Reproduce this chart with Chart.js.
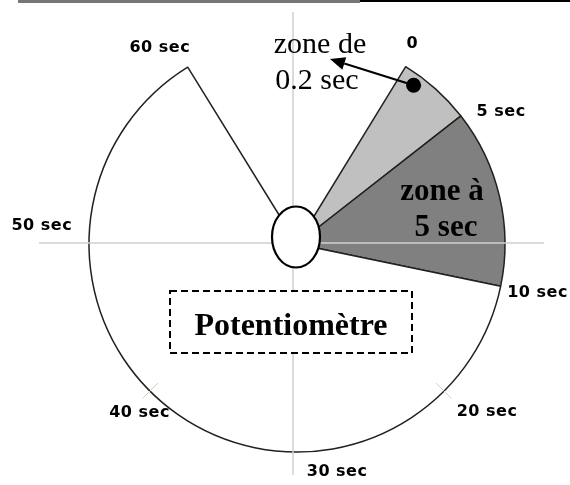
<!DOCTYPE html>
<html>
<head>
<meta charset="utf-8">
<title>Potentiomètre</title>
<script src="https://cdn.jsdelivr.net/npm/chart.js@4"></script>
<style>
  html, body { margin: 0; padding: 0; background: #fff; }
  #dial { display: block; }
</style>
</head>
<body>
<canvas id="dial" width="570" height="485"></canvas>
<script>
// knob travel in degrees, clockwise from the top of the dial
const zoneLabels = ["0 - 5 sec", "5 - 10 sec", "10 - 60 sec", "butée"];
const zoneSpans = [20.5, 49.7, 226.6, 63.2];
const zoneColors = ["#c0c0c0", "#808080", "#ffffff", "rgba(0,0,0,0)"];
const startAngle = 31.5;

// graduations printed around the dial
const tickLabels = ["0", "5 sec", "10 sec", "20 sec", "30 sec", "40 sec", "50 sec", "60 sec"];
const tickAngles = [30, 57, 101.5, 131.5, 170, 223, 274, 325];

function polar(cx, cy, r, deg) {
  const a = (deg - 90) * Math.PI / 180;
  return { x: cx + r * Math.cos(a), y: cy + r * Math.sin(a) };
}

function drawArrow(ctx, from, to) {
  const dx = to.x - from.x;
  const dy = to.y - from.y;
  const len = Math.hypot(dx, dy);
  const ux = dx / len, uy = dy / len;
  const head = 15, half = 6.5;
  const base = { x: to.x - ux * head, y: to.y - uy * head };

  ctx.strokeStyle = "#000";
  ctx.lineWidth = 2;
  ctx.beginPath();
  ctx.moveTo(from.x, from.y);
  ctx.lineTo(base.x, base.y);
  ctx.stroke();

  ctx.fillStyle = "#000";
  ctx.beginPath();
  ctx.moveTo(to.x, to.y);
  ctx.lineTo(base.x - uy * half, base.y + ux * half);
  ctx.lineTo(base.x + uy * half, base.y - ux * half);
  ctx.closePath();
  ctx.fill();
}

const dialDecor = {
  id: "dialDecor",
  afterDatasetsDraw(chart, args, opts) {
    const ctx = chart.ctx;
    const arc = chart.getDatasetMeta(0).data[0];
    const cx = arc.x, cy = arc.y, R = arc.outerRadius;

    ctx.save();

    // rule at the top of the page
    ctx.fillStyle = "#767676";
    ctx.fillRect(18, 0, 342, 3);
    ctx.fillStyle = "#000";
    ctx.fillRect(360, 0, 210, 2);

    // light cross through the dial
    ctx.strokeStyle = "#cfcfcf";
    ctx.lineWidth = 1.5;
    ctx.beginPath();
    ctx.moveTo(cx - 4, cy - 232);
    ctx.lineTo(cx - 4, cy + 231);
    ctx.moveTo(cx - 258, cy - 1);
    ctx.lineTo(cx + 247, cy - 1);
    ctx.stroke();

    // small marks on the rim
    ctx.lineWidth = 1;
    [135, 225].forEach(deg => {
      const a = polar(cx, cy, R * 0.945, deg);
      const b = polar(cx, cy, R * 1.05, deg);
      ctx.beginPath();
      ctx.moveTo(a.x, a.y);
      ctx.lineTo(b.x, b.y);
      ctx.stroke();
    });

    // knob
    ctx.fillStyle = "#fff";
    ctx.strokeStyle = "#000";
    ctx.lineWidth = 2.2;
    ctx.beginPath();
    ctx.ellipse(cx - 1, cy - 7, 24, 30.5, 0, 0, Math.PI * 2);
    ctx.fill();
    ctx.stroke();

    // graduation labels
    ctx.fillStyle = "#000";
    ctx.font = 'bold 16px "DejaVu Sans"';
    ctx.letterSpacing = "0.5px";
    ctx.textAlign = "center";
    ctx.textBaseline = "middle";
    tickLabels.forEach((label, i) => {
      const p = polar(cx, cy, R * opts.labelDistance[i], tickAngles[i]);
      ctx.fillText(label, p.x, p.y);
    });
    ctx.letterSpacing = "0px";

    // dashed box with the title
    ctx.textBaseline = "alphabetic";
    ctx.fillStyle = "#fff";
    ctx.fillRect(170, 291, 242, 62);
    ctx.setLineDash([7, 4]);
    ctx.lineWidth = 2;
    ctx.strokeRect(170, 291, 242, 62);
    ctx.setLineDash([]);
    ctx.fillStyle = "#000";
    ctx.font = 'bold 32px "Liberation Serif"';
    ctx.fillText("Potentiomètre", 291, 335);

    // zone annotations
    ctx.font = 'bold 31px "Liberation Serif"';
    ctx.fillText("zone à", 442, 200);
    ctx.fillText("5 sec", 446, 236);
    ctx.font = '30px "Liberation Serif"';
    ctx.fillText("zone de", 320, 53);
    ctx.fillText("0.2 sec", 317, 89);

    const dot = polar(cx, cy, R * 0.947, 36.3);
    ctx.beginPath();
    ctx.arc(dot.x, dot.y, 7.5, 0, Math.PI * 2);
    ctx.fill();
    drawArrow(ctx, dot, { x: 330, y: 59 });

    ctx.restore();
  }
};

new Chart(document.getElementById("dial"), {
  type: "pie",
  data: {
    labels: zoneLabels,
    datasets: [{
      data: zoneSpans,
      backgroundColor: zoneColors,
      borderColor: "#22221a",
      borderWidth: [1.5, 1.5, 1.5, 0],
      radius: 208
    }]
  },
  options: {
    responsive: false,
    animation: false,
    events: [],
    rotation: startAngle,
    layout: { padding: { left: 87, right: 63, top: 34, bottom: 31 } },
    plugins: {
      legend: { display: false },
      tooltip: { enabled: false },
      dialDecor: { labelDistance: [1.11, 1.17, 1.18, 1.22, 1.11, 1.11, 1.23, 1.15] }
    }
  },
  plugins: [dialDecor]
});
</script>
</body>
</html>
